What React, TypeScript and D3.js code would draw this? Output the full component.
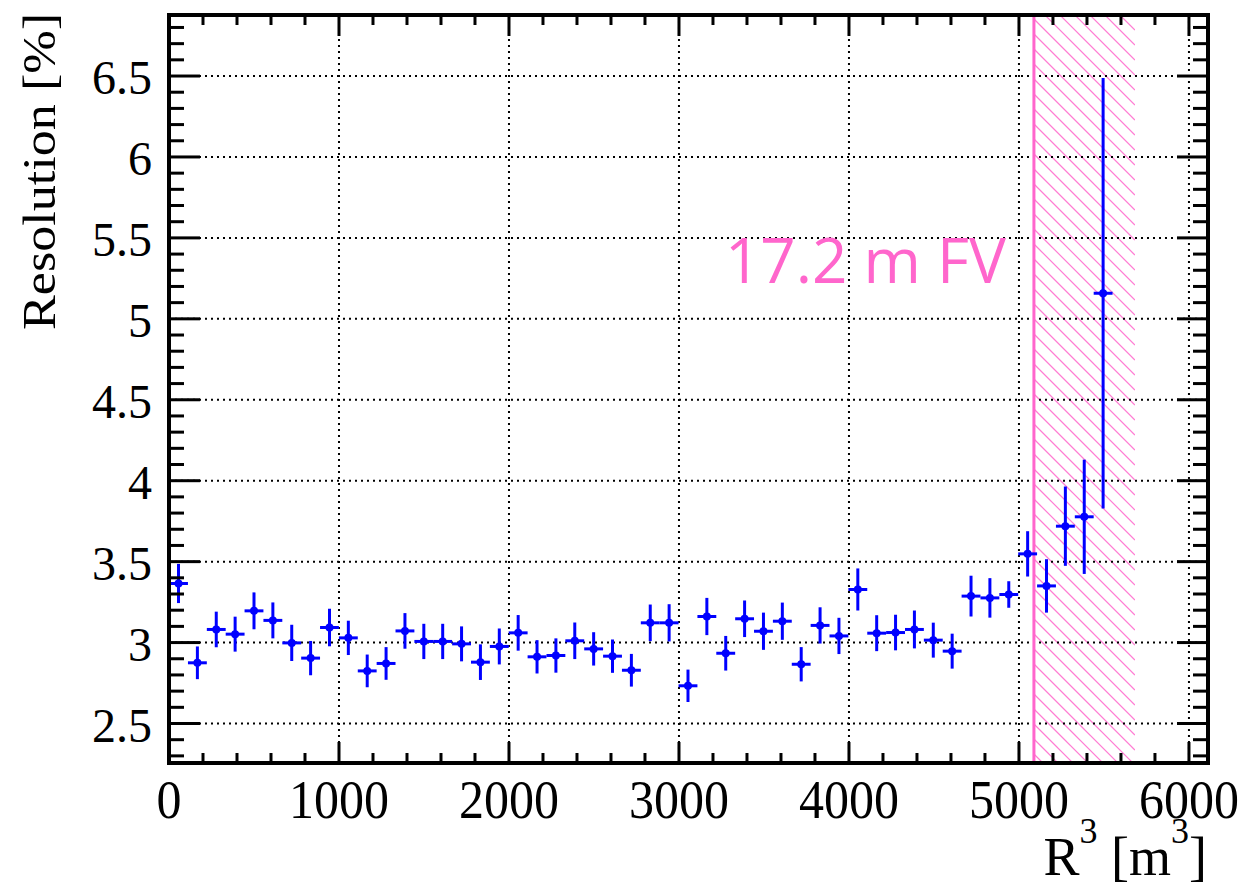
import React from "react";
import * as d3 from "d3";

// Bin centres in R^3 [m^3] and the fitted energy resolution [%] per bin
const binCenters = [
  56, 167, 278, 389, 500, 611, 722, 833, 944, 1055,
  1166, 1277, 1388, 1499, 1610, 1721, 1832, 1943, 2054, 2165,
  2276, 2387, 2498, 2609, 2720, 2831, 2942, 3053, 3164, 3275,
  3386, 3497, 3608, 3719, 3830, 3941, 4052, 4163, 4274, 4385,
  4496, 4607, 4718, 4829, 4940, 5051, 5162, 5273, 5384, 5495,
];
const binHalfWidth = 55.5;

const resolution = [
  3.365, 2.875, 3.081, 3.052, 3.196, 3.137, 2.998, 2.904, 3.093, 3.029,
  2.825, 2.871, 3.072, 3.007, 3.007, 2.992, 2.879, 2.976, 3.06, 2.912,
  2.92, 3.011, 2.961, 2.916, 2.829, 3.122, 3.122, 2.733, 3.161, 2.934,
  3.147, 3.07, 3.132, 2.866, 3.106, 3.041, 3.328, 3.058, 3.062, 3.081,
  3.015, 2.947, 3.287, 3.276, 3.297, 3.548, 3.35, 3.719, 3.777, 5.158,
];

const resolutionErr = [
  0.121, 0.101, 0.11, 0.108, 0.114, 0.111, 0.112, 0.106, 0.116, 0.106,
  0.101, 0.101, 0.11, 0.109, 0.109, 0.108, 0.11, 0.111, 0.11, 0.103,
  0.106, 0.113, 0.103, 0.103, 0.101, 0.113, 0.115, 0.1, 0.115, 0.107,
  0.113, 0.115, 0.115, 0.106, 0.112, 0.112, 0.13, 0.111, 0.11, 0.117,
  0.108, 0.108, 0.126, 0.122, 0.082, 0.14, 0.165, 0.245, 0.353, 1.33,
];

// Fiducial volume boundary (17.2 m radius) and excluded band
const fvBoundary = 5088;
const excludedEnd = 5682;
const fvLabel = "17.2 m FV";

const xMajorTicks = [0, 1000, 2000, 3000, 4000, 5000, 6000];
const yMajorTicks = [2.5, 3, 3.5, 4, 4.5, 5, 5.5, 6, 6.5];

const W = 1247;
const H = 882;
const left = 169;
const right = 1208;
const top = 15;
const bottom = 763;

const pink = "#ff66cc";
const blue = "#0000ff";

export default function App() {
  const x = d3.scaleLinear().domain([0, 6112]).range([left, right]);
  const y = d3.scaleLinear().domain([2.256, 6.877]).range([bottom, top]);

  const xMinor = d3.range(0, 6112, 200).filter((v) => v % 1000 !== 0);
  const yMinor = d3
    .range(23, 69)
    .map((v) => v / 10)
    .filter((v) => Math.abs(v * 2 - Math.round(v * 2)) > 1e-6);

  const serif = "'Liberation Serif', 'Times New Roman', serif";

  // diagonal hatch lines for the excluded band, clipped to its rectangle
  const hx0 = x(fvBoundary);
  const hx1 = x(excludedEnd);
  const hatchStep = 15;
  const hatchLines: number[] = d3.range(top - (hx1 - hx0), bottom, hatchStep);

  return (
    <svg
      width={W}
      height={H}
      style={{ position: "absolute", left: 0, top: 0, background: "#fff" }}
    >
      <defs>
        <clipPath id="plotArea">
          <rect x={left} y={top} width={right - left} height={bottom - top} />
        </clipPath>
        <clipPath id="bandArea">
          <rect x={hx0} y={top} width={hx1 - hx0} height={bottom - top} />
        </clipPath>
      </defs>

      {/* excluded region beyond the fiducial volume */}
      <g clipPath="url(#bandArea)" stroke={pink} strokeWidth={1.2} opacity={0.85}>
        {hatchLines.map((y0, i) => (
          <line
            key={"h" + i}
            x1={hx0}
            y1={y0}
            x2={hx1}
            y2={y0 + (hx1 - hx0)}
          />
        ))}
      </g>

      {/* dotted grid */}
      <g stroke="#000" strokeWidth={2} strokeDasharray="2 4">
        {xMajorTicks
          .filter((v) => v > 0)
          .map((v) => (
            <line key={"gx" + v} x1={x(v)} x2={x(v)} y1={top} y2={bottom} />
          ))}
        {yMajorTicks.map((v) => (
          <line key={"gy" + v} x1={left} x2={right} y1={y(v)} y2={y(v)} />
        ))}
      </g>

      {/* FV boundary line */}
      <line
        x1={x(fvBoundary)}
        x2={x(fvBoundary)}
        y1={top}
        y2={bottom}
        stroke={pink}
        strokeWidth={3}
      />

      <text
        x={x(3270)}
        y={y(5.22)}
        fill={pink}
        fontFamily="'Open Sans', 'Noto Sans', sans-serif"
        fontSize={62}
      >
        {fvLabel}
      </text>

      {/* data points with error bars */}
      <g clipPath="url(#plotArea)">
        {binCenters.map((c, i) => {
          const v = resolution[i];
          const e = resolutionErr[i];
          return (
            <g key={"p" + i}>
              <line
                x1={x(c - binHalfWidth)}
                x2={x(c + binHalfWidth)}
                y1={y(v)}
                y2={y(v)}
                stroke={blue}
                strokeWidth={3}
              />
              <line
                x1={x(c)}
                x2={x(c)}
                y1={y(v - e)}
                y2={y(v + e)}
                stroke={blue}
                strokeWidth={3}
              />
              <circle cx={x(c)} cy={y(v)} r={4} fill={blue} />
            </g>
          );
        })}
      </g>

      {/* ticks on all four sides */}
      <g stroke="#000" strokeWidth={3}>
        {xMajorTicks.map((v) => (
          <g key={"xt" + v}>
            <line x1={x(v)} x2={x(v)} y1={bottom} y2={bottom - 21} />
            <line x1={x(v)} x2={x(v)} y1={top} y2={top + 21} />
          </g>
        ))}
        {xMinor.map((v) => (
          <g key={"xm" + v}>
            <line x1={x(v)} x2={x(v)} y1={bottom} y2={bottom - 10} />
            <line x1={x(v)} x2={x(v)} y1={top} y2={top + 10} />
          </g>
        ))}
        {yMajorTicks.map((v) => (
          <g key={"yt" + v}>
            <line x1={left} x2={left + 31} y1={y(v)} y2={y(v)} />
            <line x1={right} x2={right - 31} y1={y(v)} y2={y(v)} />
          </g>
        ))}
        {yMinor.map((v) => (
          <g key={"ym" + v}>
            <line x1={left} x2={left + 15} y1={y(v)} y2={y(v)} />
            <line x1={right} x2={right - 15} y1={y(v)} y2={y(v)} />
          </g>
        ))}
      </g>

      {/* frame */}
      <rect
        x={left}
        y={top}
        width={right - left}
        height={bottom - top}
        fill="none"
        stroke="#000"
        strokeWidth={4}
      />

      {/* tick labels */}
      <g fontFamily={serif} fill="#000">
        {xMajorTicks.map((v) => (
          <text
            key={"xl" + v}
            x={x(v)}
            y={818}
            fontSize={54}
            textAnchor="middle"
            textLength={String(v).length * 25}
            lengthAdjust="spacingAndGlyphs"
          >
            {v}
          </text>
        ))}
        {yMajorTicks.map((v) => (
          <text
            key={"yl" + v}
            x={152}
            y={y(v) + 18}
            fontSize={48}
            textAnchor="end"
          >
            {v}
          </text>
        ))}
      </g>

      {/* axis titles */}
      <text
        x={1207}
        y={875}
        fontFamily={serif}
        fontSize={54}
        textAnchor="end"
        fill="#000"
      >
        <tspan>R</tspan>
        <tspan dy={-32} fontSize={36}>3</tspan>
        <tspan dy={32}> [m</tspan>
        <tspan dy={-32} fontSize={36}>3</tspan>
        <tspan dy={32}>]</tspan>
      </text>

      <text
        transform="translate(55,13) rotate(-90)"
        fontFamily={serif}
        fontSize={46}
        textAnchor="end"
        fill="#000"
        textLength={317}
        lengthAdjust="spacingAndGlyphs"
      >
        Resolution [%]
      </text>
    </svg>
  );
}
